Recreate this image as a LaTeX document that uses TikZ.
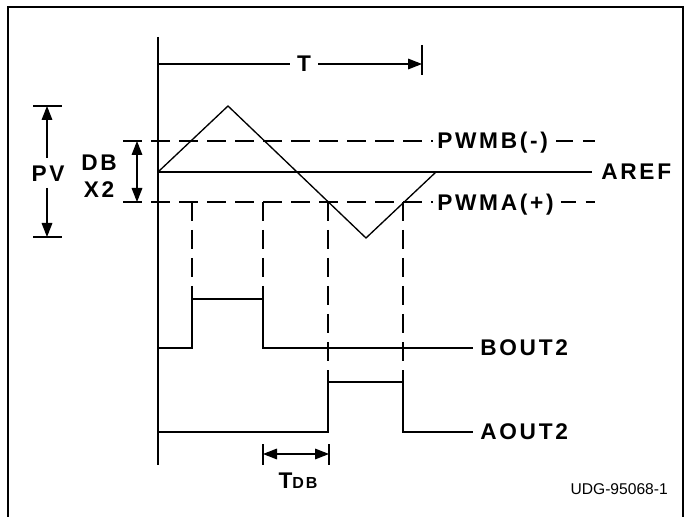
\documentclass[tikz,border=0pt]{standalone}
\usepackage{fontspec}
\setmainfont{Liberation Sans}
\newfontfamily\lblfont[LetterSpace=12]{Liberation Sans}
\usetikzlibrary{arrows.meta,calc}
\begin{document}
\begin{tikzpicture}[x=0.75pt,y=-0.75pt,
  wave/.style={line width=1pt},
  guide/.style={line width=0.9pt, dash pattern=on 14pt off 7pt},
  dimline/.style={line width=0.9pt},
  tipend/.style={-{Triangle[length=10.5pt,width=8pt]}},
  lbl/.style={font=\lblfont\bfseries\fontsize{17}{19}\selectfont, inner sep=0pt},
  small/.style={font=\fontsize{11.7}{13}\selectfont, inner sep=0pt}
]
\clip (0,0) rectangle (694,517);
% frame
\draw[line width=2.2pt] (8,530) -- (8,7) -- (683,7) -- (683,530);

% labels
\node[lbl, anchor=base west] (pwmb) at (437,149) {PWMB(-)};
\node[lbl, anchor=base west] (pwma) at (437,210) {PWMA(+)};
\node[lbl, anchor=west] (aref) at (601,172) {AREF};
\node[lbl, anchor=west] (bout) at (480,348) {BOUT2};
\node[lbl, anchor=west] (aout) at (480,432) {AOUT2};
\node[lbl] (T) at (304,64) {T};
\node[lbl] (PV) at (48,174) {PV};
\node[lbl] (DB) at (99,163) {DB};
\node[lbl] (X2) at (99,190) {X2};
\node[lbl] (TDB) at (298,481) {T{\fontsize{12}{14}\selectfont DB}};
\node[small, anchor=base east] (udg) at (668,494) {UDG-95068-1};

% key coordinates
\coordinate (o)   at (158,172);
\coordinate (top) at (158,37);
\coordinate (bot) at (158,465);
\coordinate (pk)  at (228,106);
\coordinate (vl)  at (366,238);
\coordinate (re)  at (436,172);
\coordinate (mb)  at (123,141);
\coordinate (ma)  at (123,202);

% vertical axis
\draw[dimline] (top) -- (bot);

% T dimension
\draw[dimline] (158,64) -- ($(T.west)+(-7,0)$);
\draw[dimline, tipend] ($(T.east)+(7,0)$) -- (422,64);
\draw[dimline] (422,45) -- (422,75);

% PV dimension
\draw[dimline] (33,106) -- (62,106);
\draw[dimline] (33,237) -- (62,237);
\draw[dimline, tipend] (47,158) -- (47,106);
\draw[dimline, tipend] (47,188) -- (47,237);

% DB x2 dimension
\draw[dimline, tipend] (137,172) -- (137,141);
\draw[dimline, tipend] (137,172) -- (137,202);

% threshold lines
\draw[guide] (mb) -- ($(pwmb.west |- mb)+(-4,0)$);
\draw[line width=0.9pt, dash pattern=on 12.5pt off 7.5pt] ($(pwmb.east |- mb)+(8,0)$) -- (595,141);
\draw[guide] (ma) -- ($(pwma.west |- ma)+(-4,0)$);
\draw[line width=0.9pt, dash pattern=on 11pt off 7.5pt] ($(pwma.east |- ma)+(7,0)$) -- (595,202);

% AREF
\draw[dimline] (o) -- ($(aref.west)+(-9,0)$);

% triangle
\draw[wave] (o) -- (pk) -- (vl) -- (re);

% dashed verticals
\draw[guide] (192,202) -- (192,299);
\draw[guide] (263,202) -- (263,299);
\draw[guide] (328,202) -- (328,382);
\draw[guide] (403,202) -- (403,382);

% BOUT2
\draw[wave] (158,348) -- (192,348) -- (192,299) -- (263,299) -- (263,348) -- ($(bout.west)+(-7,0)$);
% AOUT2
\draw[wave] (158,432) -- (328,432) -- (328,382) -- (403,382) -- (403,432) -- ($(aout.west)+(-7,0)$);

% TDB dimension
\draw[dimline] (263,444) -- (263,465);
\draw[dimline] (329,444) -- (329,465);
\draw[dimline, {Triangle[length=10.5pt,width=8pt]}-{Triangle[length=10.5pt,width=8pt]}] (263,454) -- (329,454);
\end{tikzpicture}
\end{document}
